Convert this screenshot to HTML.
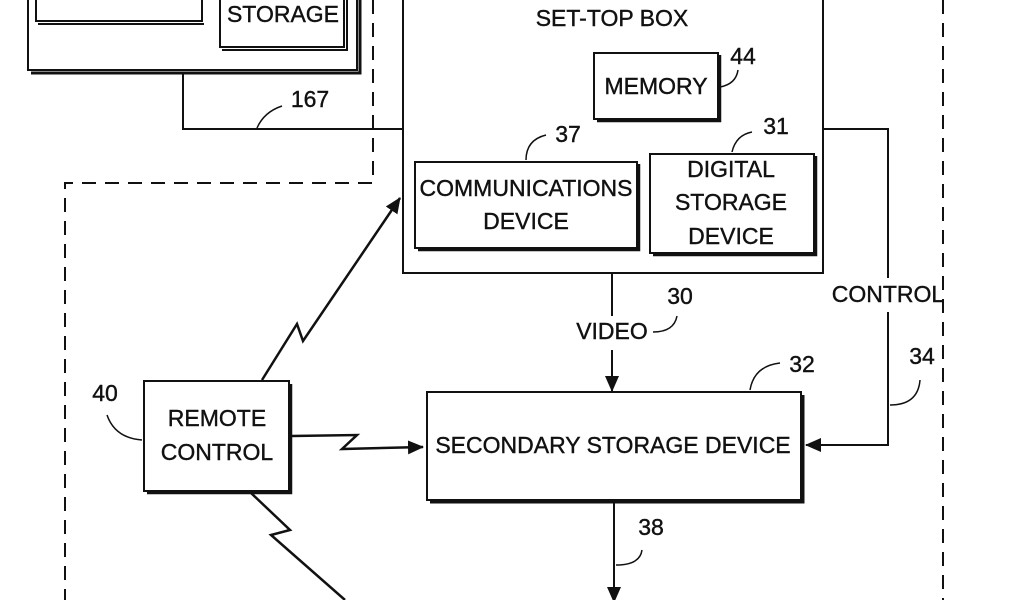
<!DOCTYPE html>
<html><head><meta charset="utf-8"><style>
html,body{margin:0;padding:0;background:#fff;}
svg{display:block;}
text{font-family:"Liberation Sans",sans-serif;font-size:23px;fill:#111;text-anchor:middle;stroke:#111;stroke-width:0.4;}
</style></head><body>
<svg width="1024" height="600" viewBox="0 0 1024 600" xmlns="http://www.w3.org/2000/svg">
<defs>
<marker id="ahb" markerWidth="16" markerHeight="14" refX="15" refY="7" orient="auto" markerUnits="userSpaceOnUse" viewBox="0 0 16 14">
<path d="M0,0 L16,7 L0,14 z" fill="#111"/></marker>
</defs>
<g fill="none" stroke="#111" stroke-width="2">
<g stroke-dasharray="14,9">
<path d="M373,0 L373,183 L65,183 L65,600"/>
<path d="M943,0 L943,600"/>
</g>
<path d="M28,-5 L28,70 L357,70 L357,-5"/>
<path d="M31,73 L360,73 L360,-5" stroke-width="3"/>
<path d="M36,-5 L36,21 L202,21 L202,-5"/>
<path d="M38,24 L204,24" stroke-width="2"/>
<path d="M220,-5 L220,47 L344,47 L344,-5"/>
<path d="M222,50 L347,50 L347,-5" stroke-width="2"/>
<path d="M183,73 L183,129 L403,129"/>
<path d="M257,128 Q264,112 282,106" stroke-width="1.5"/>
<path d="M403,-5 L403,273 L823,273 L823,-5"/>
<rect x="594" y="53" width="124" height="66"/>
<path d="M720,55 L720,121 L597,121" stroke-width="2.5"/>
<path d="M720,87 Q736,84 738,70" stroke-width="1.5"/>
<rect x="415" y="162" width="222" height="86"/>
<path d="M639,164 L639,250 L418,250" stroke-width="2.5"/>
<path d="M526,160 Q526,140 546,135" stroke-width="1.5"/>
<rect x="650" y="154" width="164" height="99"/>
<path d="M816,156 L816,255 L653,255" stroke-width="2.5"/>
<path d="M732,152 Q736,135 752,132" stroke-width="1.5"/>
<path d="M823,129 L888,129 L888,278"/>
<path d="M888,312 L888,445 L806,445" marker-end="url(#ahb)"/>
<path d="M890,405 Q918,405 920,380" stroke-width="1.5"/>
<path d="M612,273 L612,316"/>
<path d="M612,350 L612,391" marker-end="url(#ahb)"/>
<path d="M653,332 Q674,332 677,316" stroke-width="1.5"/>
<rect x="427" y="392" width="374" height="108"/>
<path d="M803,395 L803,502 L430,502" stroke-width="3"/>
<path d="M750,390 Q754,366 780,363" stroke-width="1.5"/>
<path d="M614,502 L614,602" marker-end="url(#ahb)"/>
<path d="M616,565 Q640,565 642,550" stroke-width="1.5"/>
<rect x="144" y="381" width="145" height="110"/>
<path d="M291,384 L291,493 L147,493" stroke-width="2.5"/>
<path d="M107,415 Q115,438 142,440" stroke-width="1.5"/>
<path d="M262,380 L297,324 L303,341 L400,198" stroke-width="2.5" marker-end="url(#ahb)"/>
<path d="M292,436 L357,435 L342,449 L423,447" stroke-width="2.5" marker-end="url(#ahb)"/>
<path d="M250,492 L290,530 L271,535 L345,600" stroke-width="2.5"/>
</g>
<text x="283" y="22">STORAGE</text>
<text x="310" y="107" font-size="21">167</text>
<text x="612" y="26">SET-TOP BOX</text>
<text x="656" y="94">MEMORY</text>
<text x="743" y="64" font-size="21">44</text>
<text x="568" y="142" font-size="21">37</text>
<text x="526" y="196">COMMUNICATIONS</text>
<text x="526" y="229">DEVICE</text>
<text x="776" y="134" font-size="21">31</text>
<text x="731" y="177">DIGITAL</text>
<text x="731" y="210">STORAGE</text>
<text x="731" y="244">DEVICE</text>
<text x="888" y="302">CONTROL</text>
<text x="680" y="304" font-size="21">30</text>
<text x="612" y="339">VIDEO</text>
<text x="922" y="364" font-size="21">34</text>
<text x="802" y="372" font-size="21">32</text>
<text x="613" y="453">SECONDARY STORAGE DEVICE</text>
<text x="651" y="535" font-size="21">38</text>
<text x="105" y="401" font-size="21">40</text>
<text x="217" y="426">REMOTE</text>
<text x="217" y="460">CONTROL</text>
</svg>
</body></html>
